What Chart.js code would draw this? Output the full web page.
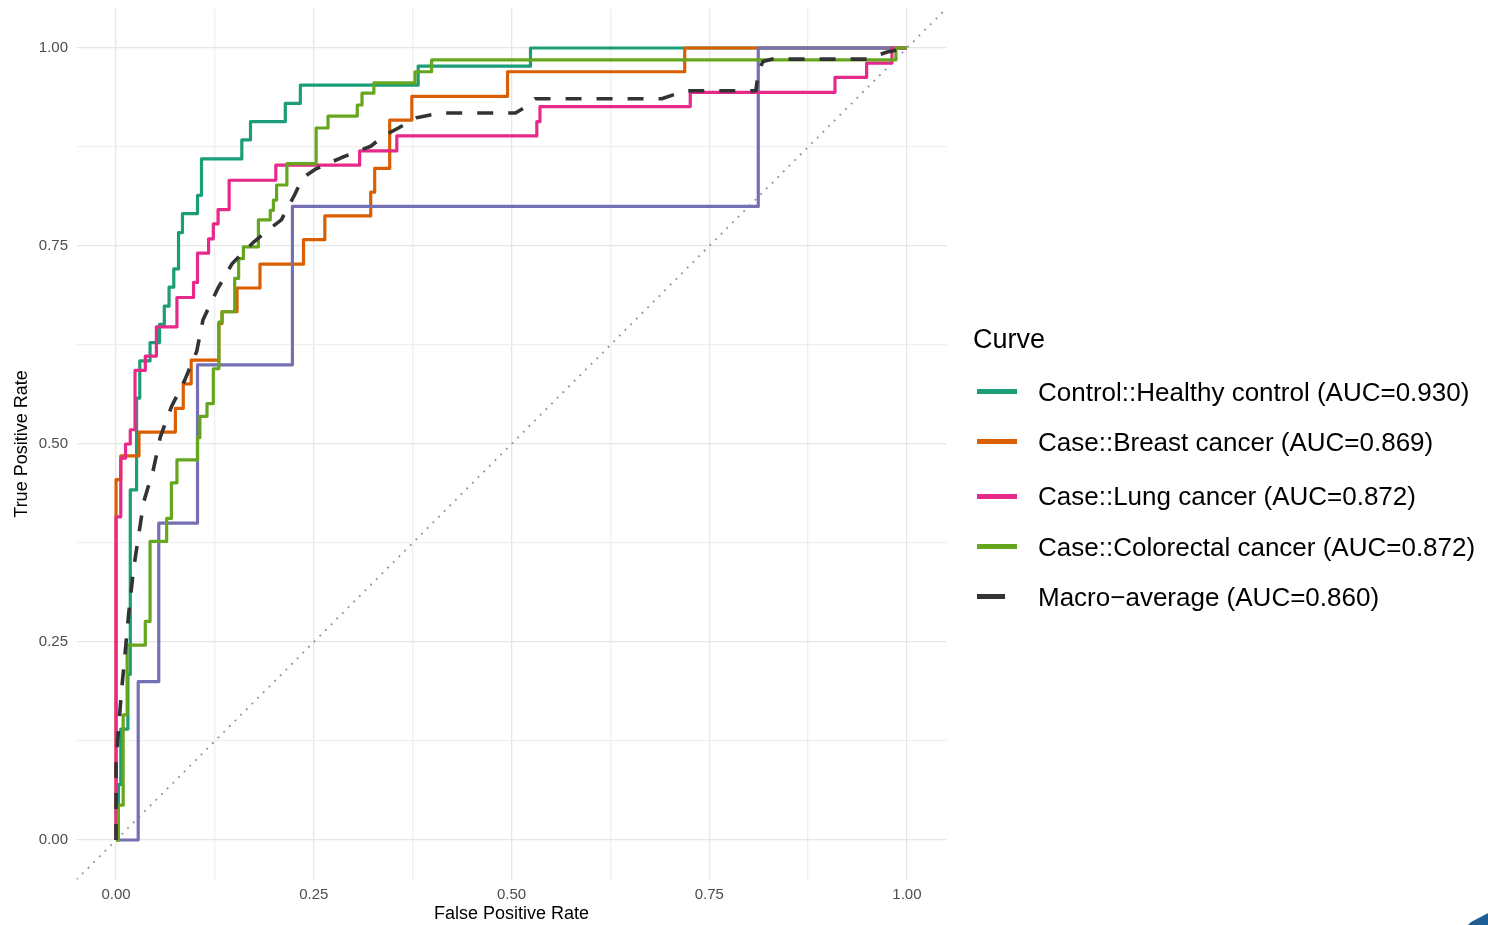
<!DOCTYPE html>
<html>
<head>
<meta charset="utf-8">
<title>ROC curves</title>
<script src="https://cdn.jsdelivr.net/npm/chart.js@4.4.1/dist/chart.umd.min.js"></script>
<style>
  body { margin: 0; background: #fff; }
  #wrap { position: relative; width: 1488px; height: 925px; overflow: hidden; font-family: "Liberation Sans", Arial, sans-serif; }
  #roc { position: absolute; left: 0; top: 0; }
  .leg-title { position: absolute; left: 973px; font-size: 27px; color: #000; height: 34px; line-height: 34px; }
  .leg-key { position: absolute; left: 977px; height: 5px; }
  .leg-text { position: absolute; left: 1038px; font-size: 26px; color: #000; white-space: nowrap; height: 32px; line-height: 32px; }
  #corner { position: absolute; left: 1462px; top: 911px; width: 30px; height: 20px; background: #1f5f96;
            clip-path: polygon(100% 0, 100% 100%, 0 100%, 30% 55%); }
</style>
</head>
<body>
<div id="wrap">
  <canvas id="roc" width="1488" height="925"></canvas>
  <div id="legend"></div>
  <div id="corner"></div>
</div>
<script>
// vertices of each ROC curve, [fpr, tpr]
const healthyCtrl = [[0,0],[0.003,0],[0.003,0.070],[0.006,0.070],[0.006,0.140],[0.015,0.140],[0.015,0.209],[0.018,0.209],
  [0.018,0.442],[0.026,0.442],[0.026,0.558],[0.030,0.558],[0.030,0.605],[0.043,0.605],[0.043,0.628],[0.055,0.628],
  [0.055,0.651],[0.061,0.651],[0.061,0.674],[0.067,0.674],[0.067,0.698],[0.073,0.698],[0.073,0.721],[0.079,0.721],
  [0.079,0.767],[0.084,0.767],[0.084,0.791],[0.103,0.791],[0.103,0.814],[0.108,0.814],[0.108,0.860],[0.159,0.860],
  [0.159,0.884],[0.170,0.884],[0.170,0.907],[0.214,0.907],[0.214,0.930],[0.233,0.930],[0.233,0.953],[0.382,0.953],
  [0.382,0.977],[0.524,0.977],[0.524,1],[1,1]];

const breastCancer = [[0,0],[0,0.455],[0.006,0.455],[0.006,0.485],[0.029,0.485],[0.029,0.515],[0.075,0.515],[0.075,0.545],
  [0.085,0.545],[0.085,0.576],[0.095,0.576],[0.095,0.606],[0.130,0.606],[0.130,0.652],[0.134,0.652],[0.134,0.667],
  [0.153,0.667],[0.153,0.697],[0.182,0.697],[0.182,0.727],[0.237,0.727],[0.237,0.758],[0.264,0.758],[0.264,0.788],
  [0.322,0.788],[0.322,0.818],[0.327,0.818],[0.327,0.848],[0.346,0.848],[0.346,0.909],[0.374,0.909],[0.374,0.939],
  [0.495,0.939],[0.495,0.970],[0.719,0.970],[0.719,1],[1,1]];

const otherClass = [[0,0],[0.028,0],[0.028,0.2],[0.054,0.2],[0.054,0.4],[0.103,0.4],[0.103,0.6],[0.223,0.6],
  [0.223,0.8],[0.812,0.8],[0.812,1],[1,1]];

const lungCancer = [[0,0],[0,0.408],[0.006,0.408],[0.006,0.482],[0.012,0.482],[0.012,0.500],[0.018,0.500],[0.018,0.518],
  [0.024,0.518],[0.024,0.593],[0.037,0.593],[0.037,0.611],[0.051,0.611],[0.051,0.648],[0.077,0.648],[0.077,0.685],
  [0.098,0.685],[0.098,0.704],[0.103,0.704],[0.103,0.741],[0.117,0.741],[0.117,0.759],[0.123,0.759],[0.123,0.778],
  [0.129,0.778],[0.129,0.796],[0.143,0.796],[0.143,0.833],[0.202,0.833],[0.202,0.852],[0.308,0.852],[0.308,0.870],
  [0.355,0.870],[0.355,0.889],[0.532,0.889],[0.532,0.907],[0.536,0.907],[0.536,0.926],[0.726,0.926],[0.726,0.944],
  [0.909,0.944],[0.909,0.963],[0.949,0.963],[0.949,0.981],[0.981,0.981],[0.981,1],[1,1]];

const colorectalCancer = [[0,0],[0.003,0],[0.003,0.044],[0.009,0.044],[0.009,0.158],[0.014,0.158],[0.014,0.246],
  [0.037,0.246],[0.037,0.276],[0.043,0.276],[0.043,0.377],[0.064,0.377],[0.064,0.406],[0.070,0.406],[0.070,0.451],
  [0.077,0.451],[0.077,0.480],[0.103,0.480],[0.103,0.508],[0.106,0.508],[0.106,0.535],[0.115,0.535],[0.115,0.551],
  [0.123,0.551],[0.123,0.595],[0.130,0.595],[0.130,0.654],[0.134,0.654],[0.134,0.667],[0.150,0.667],[0.150,0.709],
  [0.155,0.709],[0.155,0.734],[0.161,0.734],[0.161,0.749],[0.180,0.749],[0.180,0.783],[0.195,0.783],[0.195,0.795],
  [0.199,0.795],[0.199,0.808],[0.203,0.808],[0.203,0.827],[0.216,0.827],[0.216,0.854],[0.253,0.854],[0.253,0.899],
  [0.268,0.899],[0.268,0.914],[0.305,0.914],[0.305,0.928],[0.311,0.928],[0.311,0.943],[0.326,0.943],[0.326,0.956],
  [0.378,0.956],[0.378,0.970],[0.399,0.970],[0.399,0.985],[0.986,0.985],[0.986,1],[1,1]];

const macroAverage = [[0,0],[0,0.095],[0.003,0.139],[0.007,0.189],[0.011,0.231],[0.016,0.286],[0.022,0.341],[0.028,0.381],
  [0.035,0.427],[0.047,0.467],[0.056,0.509],[0.070,0.547],[0.087,0.581],[0.102,0.617],[0.110,0.657],[0.129,0.697],
  [0.147,0.728],[0.174,0.755],[0.192,0.770],[0.209,0.783],[0.218,0.800],[0.226,0.815],[0.236,0.836],[0.252,0.847],
  [0.286,0.862],[0.322,0.876],[0.340,0.890],[0.357,0.899],[0.380,0.912],[0.410,0.918],[0.505,0.918],[0.515,0.924],
  [0.530,0.936],[0.690,0.936],[0.720,0.946],[0.809,0.946],[0.812,0.970],[0.818,0.983],[0.830,0.986],[0.950,0.986],
  [0.975,0.995],[1,1]];

const chanceLine = [[-0.05,-0.05],[1.05,1.05]];

const tickValues = [0, 0.25, 0.5, 0.75, 1];
const tickLabels = ['0.00', '0.25', '0.50', '0.75', '1.00'];
const gridValues = [0, 0.125, 0.25, 0.375, 0.5, 0.625, 0.75, 0.875, 1];

const curveNames = ['Control::Healthy control (AUC=0.930)', 'Case::Breast cancer (AUC=0.869)',
  'Case::Lung cancer (AUC=0.872)', 'Case::Colorectal cancer (AUC=0.872)', 'Macro\u2212average (AUC=0.860)'];
const curveColors = ['#1B9E77', '#D95F02', '#E7298A', '#66A61E', '#333333'];

const family = '"Liberation Sans", Arial, sans-serif';

function pts(arr) {
  return arr.map(p => ({ x: p[0], y: p[1] }));
}

function curve(label, arr, color, order) {
  return {
    label: label,
    data: pts(arr),
    showLine: true,
    borderColor: color,
    borderWidth: 3.2,
    pointRadius: 0,
    fill: false,
    tension: 0,
    borderJoinStyle: 'round',
    borderCapStyle: 'butt',
    order: order
  };
}

const datasets = [
  curve(curveNames[0], healthyCtrl, curveColors[0], 6),
  curve(curveNames[1], breastCancer, curveColors[1], 5),
  curve('other', otherClass, '#7570B3', 4),
  curve(curveNames[2], lungCancer, curveColors[2], 3),
  curve(curveNames[3], colorectalCancer, curveColors[3], 2),
  Object.assign(curve(curveNames[4], macroAverage, curveColors[4], 1), { borderWidth: 3.6, borderDash: [16, 15] }),
  Object.assign(curve('chance', chanceLine, '#8f8f8f', 7), { borderWidth: 1.8, borderDash: [1.8, 6.2] })
];

function axis(title, isY) {
  return {
    type: 'linear',
    min: -0.05,
    max: 1.05,
    afterBuildTicks: s => { s.ticks = gridValues.map(v => ({ value: v })); },
    afterFit: s => {
      // keep the panel exactly where the reference has it
      s.paddingTop = 0; s.paddingBottom = 0; s.paddingLeft = 0; s.paddingRight = 0;
      if (isY) s.width = 76.5; else s.height = 45.4;
    },
    ticks: {
      autoSkip: false,
      maxRotation: 0,
      padding: isY ? 8.5 : 6,
      color: '#4d4d4d',
      font: { size: 15, family: family },
      callback: v => {
        const i = tickValues.indexOf(v);
        return i < 0 ? '' : tickLabels[i];
      }
    },
    grid: {
      drawTicks: false,
      color: ctx => (ctx.tick && tickValues.includes(ctx.tick.value)) ? '#e6e6e6' : '#efefef',
      lineWidth: 1.3
    },
    border: { display: false },
    title: {
      display: true,
      text: title,
      color: '#000',
      font: { size: 18, family: family },
      padding: isY ? { top: 11, bottom: 0 } : { top: 0, bottom: 0 }
    }
  };
}

new Chart(document.getElementById('roc'), {
  type: 'scatter',
  data: { datasets: datasets },
  options: {
    responsive: false,
    animation: false,
    devicePixelRatio: 1,
    events: [],
    layout: { padding: { top: 8.4, right: 541.5, bottom: 0, left: 0 } },
    scales: {
      x: axis('False Positive Rate', false),
      y: axis('True Positive Rate', true)
    },
    plugins: {
      legend: { display: false },
      tooltip: { enabled: false }
    }
  }
});

// legend on the right
const legendRowY = [391.7, 441.7, 496, 546.7, 596.7];
const keyWidths = [40, 40, 40, 40, 28];
const legend = document.getElementById('legend');
let html = '<div class="leg-title" style="top:' + (339 - 17) + 'px">Curve</div>';
curveNames.forEach((name, i) => {
  html += '<div class="leg-key" style="top:' + (legendRowY[i] - 2.5) + 'px;width:' + keyWidths[i] +
    'px;background:' + curveColors[i] + '"></div>';
  html += '<div class="leg-text" style="top:' + (legendRowY[i] - 16) + 'px">' + name + '</div>';
});
legend.innerHTML = html;
</script>
</body>
</html>
